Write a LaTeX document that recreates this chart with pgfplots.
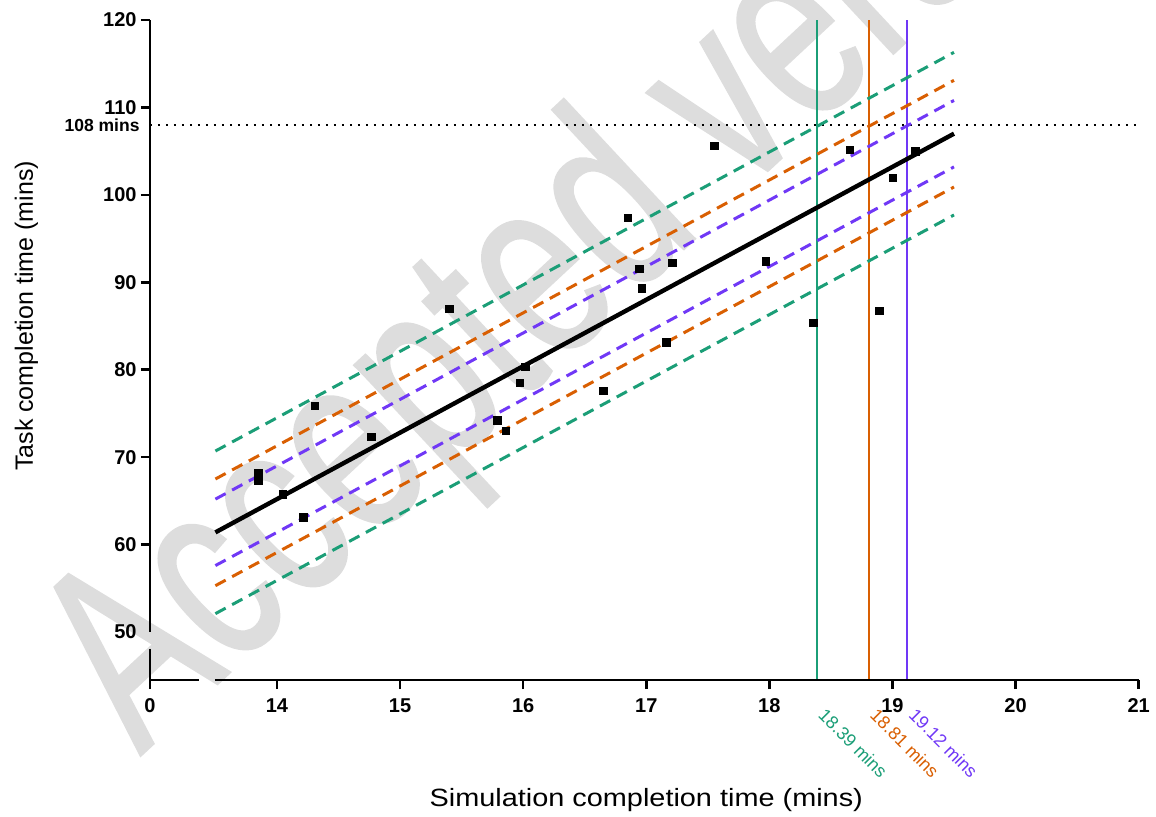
\documentclass[border=0pt]{standalone}
\usepackage{fontspec}
\setmainfont{Liberation Sans}
\newfontfamily\wmfont[FakeBold=1]{Liberation Sans}
\usepackage{pgfplots}
\pgfplotsset{compat=1.18}
\definecolor{cgreen}{RGB}{27,158,119}
\definecolor{corange}{RGB}{217,95,2}
\definecolor{cpurple}{RGB}{112,56,246}
\definecolor{wm}{RGB}{221,221,221}
\begin{document}
\begin{tikzpicture}
\useasboundingbox (0,0) rectangle (578pt,408pt);
% watermark
\node[anchor=base west, rotate=43, xscale=0.7, inner sep=0pt, text=wm,
      font=\wmfont\fontsize{132}{132}\selectfont] at (70pt,30pt) {Accepted version};
\begin{axis}[
  at={(75pt,68pt)}, anchor=south west,
  scale only axis, width=494.35pt, height=330pt,
  xmin=12.9683, xmax=21, ymin=44.51, ymax=120,
  axis lines=left, axis line style={draw=none,-},
  clip=false,
  xtick={12.9683,14,15,16,17,18,19,20,21},
  xticklabels={0,14,15,16,17,18,19,20,21},
  ytick={60,70,...,120},
  extra y ticks={50},
  extra y tick style={major tick style={draw=none}},
  tick align=outside,
  major tick length=4.5pt,
  tick style={line width=1.3pt, black},
  /pgf/number format/assume math mode=true,
  tick label style={font=\bfseries\fontsize{10}{12}\selectfont},
  xticklabel style={inner sep=0pt, yshift=-4.5pt},
  yticklabel style={inner sep=0pt, xshift=-2pt},
  xlabel={Simulation completion time (mins)},
  ylabel={Task completion time (mins)},
  xlabel style={at={(axis description cs:0.502,-0.192)}, anchor=base,
                font=\fontsize{12.5}{15}\selectfont, xscale=1.155, inner sep=0pt},
  ylabel style={at={(axis description cs:-0.1183,0.5515)}, anchor=base,
                font=\fontsize{12.5}{15}\selectfont, inner sep=0pt},
]
% 108 threshold
\addplot[black, line width=1pt, dash pattern=on 1pt off 3pt] coordinates {(12.9683,108) (21,108)};
% vertical lines
\addplot[cgreen, line width=1pt] coordinates {(18.39,44.51) (18.39,120)};
\addplot[corange, line width=1pt] coordinates {(18.81,44.51) (18.81,120)};
\addplot[cpurple, line width=1pt] coordinates {(19.12,44.51) (19.12,120)};
% bands
\addplot[cgreen, line width=1.5pt, dash pattern=on 5.8pt off 3.7pt] coordinates {(13.5,70.7) (19.5,116.3)};
\addplot[corange, line width=1.5pt, dash pattern=on 5.8pt off 3.7pt] coordinates {(13.5,67.5) (19.5,113.1)};
\addplot[cpurple, line width=1.5pt, dash pattern=on 5.8pt off 3.7pt] coordinates {(13.5,65.2) (19.5,110.8)};
\addplot[cpurple, line width=1.5pt, dash pattern=on 5.8pt off 3.7pt] coordinates {(13.5,57.6) (19.5,103.2)};
\addplot[corange, line width=1.5pt, dash pattern=on 5.8pt off 3.7pt] coordinates {(13.5,55.3) (19.5,100.9)};
\addplot[cgreen, line width=1.5pt, dash pattern=on 5.8pt off 3.7pt] coordinates {(13.5,52.1) (19.5,97.7)};
% regression
\addplot[black, line width=2.2pt] coordinates {(13.5,61.4) (19.5,107.0)};
% data
\addplot[only marks, mark=square*, mark size=1.9pt, black] coordinates {
(13.848,68.22) (13.848,67.27) (14.049,65.75) (14.217,63.12) (14.309,75.88)
(14.769,72.32) (15.401,86.94) (15.791,74.17) (15.860,72.99) (15.972,78.51)
(16.017,80.31) (16.651,77.60) (16.850,97.37) (16.942,91.52) (16.965,89.29)
(17.162,83.14) (17.211,92.24) (17.552,105.59) (17.972,92.40) (18.357,85.34)
(18.655,105.13) (18.893,86.71) (19.004,101.93) (19.185,104.94)};
% axis lines with breaks
\draw[line width=1.3pt] (axis cs:12.9683,120) -- (axis cs:12.9683,50);
\draw[line width=1.3pt] (axis cs:12.9683,48.06) -- (axis cs:12.9683,44.51) -- (axis cs:13.366,44.51);
\draw[line width=1.3pt] (axis cs:13.4963,44.51) -- (axis cs:21,44.51);
\draw[line width=1.3pt] (axis cs:12.9683,50) ++(-2.25pt,0) -- ++(4.5pt,0);
\draw[line width=1.3pt] (axis cs:12.9683,48.06) ++(-2.25pt,0) -- ++(4.5pt,0);
\draw[line width=1.3pt] (axis cs:13.366,44.51) ++(0,-2.25pt) -- ++(0,4.5pt);
\draw[line width=1.3pt] (axis cs:13.4963,44.51) ++(0,-2.25pt) -- ++(0,4.5pt);
% annotations
\node[anchor=east, xshift=-5pt, inner sep=0pt, font=\bfseries\fontsize{8.75}{10}\selectfont] at (axis cs:12.9683,108) {108 mins};
\node[anchor=north west, rotate=-45, inner sep=0pt, text=cgreen, font=\fontsize{9}{10}\selectfont] at (axis cs:18.465,41.42) {18.39 mins};
\node[anchor=north west, rotate=-45, inner sep=0pt, text=corange, font=\fontsize{9}{10}\selectfont] at (axis cs:18.885,41.42) {18.81 mins};
\node[anchor=north west, rotate=-45, inner sep=0pt, text=cpurple, font=\fontsize{9}{10}\selectfont] at (axis cs:19.20,41.42) {19.12 mins};
\end{axis}
\end{tikzpicture}
\end{document}
